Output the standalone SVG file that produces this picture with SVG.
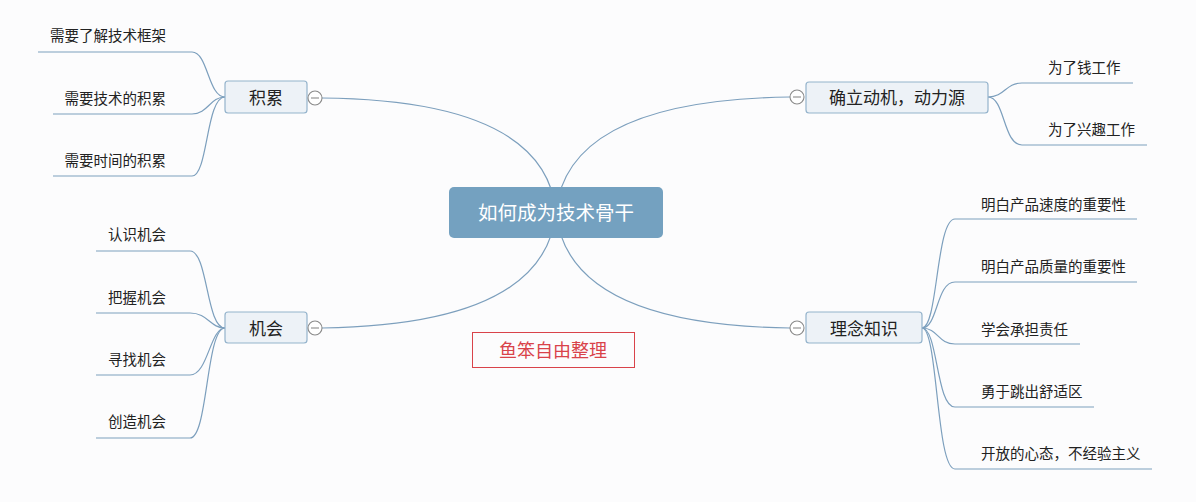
<svg xmlns="http://www.w3.org/2000/svg" width="1196" height="502" viewBox="0 0 1196 502">
<style>
text{font-family:"Microsoft YaHei","Noto Sans CJK SC",sans-serif;fill:#222}
.sub{font-size:14.5px}
.topic{font-size:17px}
.root{font-size:19.5px;fill:#fff}
.node{fill:#edf2f7;stroke:#94b3cc;stroke-width:1.2}
.conn path{fill:none;stroke:#7c9fbd;stroke-width:1.2}
.col circle{fill:#fff;stroke:#8a8a8a;stroke-width:1.1}
.col line{stroke:#8a8a8a;stroke-width:1.1}
</style>
<rect width="1196" height="502" fill="#fcfcfd"/>
<g id="connectors" class="conn">
<path d="M322,98 Q545,100 556,212"/>
<path d="M790,97 Q567,100 556,212"/>
<path d="M322,328 Q545,325 556,212"/>
<path d="M790,328 Q567,325 556,212"/>
<path d="M38,52 L192,52 C208,52 208,97 225,97"/>
<path d="M53,114 L192,114 C208,114 210,97 225,97"/>
<path d="M53,176 L192,176 C208,176 206,97 225,97"/>
<path d="M96,251 L190,251 C208,251 206,328 225,328"/>
<path d="M96,313 L190,313 C208,313 210,328 225,328"/>
<path d="M96,375 L190,375 C208,375 210,328 225,328"/>
<path d="M96,438 L190,438 C208,438 206,328 225,328"/>
<path d="M988,97 C1005,97 1005,83 1022,83 L1133,83"/>
<path d="M988,97 C1005,97 1003,145 1022,145 L1147,145"/>
<path d="M922,328 C938,328 936,219 955,219 L1137,219"/>
<path d="M922,328 C938,328 936,282 955,282 L1137,282"/>
<path d="M922,328 C938,328 938,344 955,344 L1080,344"/>
<path d="M922,328 C938,328 936,407 955,407 L1094,407"/>
<path d="M922,328 C938,328 936,469 955,469 L1152,469"/>
</g>
<g id="root">
<rect x="449" y="187" width="214" height="51" rx="5" fill="#74a1c0"/>
<text class="root" x="556" y="220" text-anchor="middle">如何成为技术骨干</text>
</g>
<g id="n-jilei">
<rect class="node" x="225" y="81" width="82" height="32" rx="3"/>
<text class="topic" x="266" y="104" text-anchor="middle">积累</text>
<g class="col"><circle cx="315" cy="98" r="7"/><line x1="311" y1="98" x2="319" y2="98"/></g>
</g>
<g id="n-jilei-1"><text class="sub" x="166" y="41" text-anchor="end">需要了解技术框架</text></g>
<g id="n-jilei-2"><text class="sub" x="166" y="103.5" text-anchor="end">需要技术的积累</text></g>
<g id="n-jilei-3"><text class="sub" x="166" y="166" text-anchor="end">需要时间的积累</text></g>
<g id="n-jihui">
<rect class="node" x="225" y="312" width="82" height="31" rx="3"/>
<text class="topic" x="266" y="334.5" text-anchor="middle">机会</text>
<g class="col"><circle cx="315" cy="328" r="7"/><line x1="311" y1="328" x2="319" y2="328"/></g>
</g>
<g id="n-jihui-1"><text class="sub" x="166" y="240" text-anchor="end">认识机会</text></g>
<g id="n-jihui-2"><text class="sub" x="166" y="303" text-anchor="end">把握机会</text></g>
<g id="n-jihui-3"><text class="sub" x="166" y="365" text-anchor="end">寻找机会</text></g>
<g id="n-jihui-4"><text class="sub" x="166" y="427" text-anchor="end">创造机会</text></g>
<g id="n-dongji">
<rect class="node" x="806" y="82" width="182" height="31" rx="3"/>
<text class="topic" x="897" y="104" text-anchor="middle">确立动机，动力源</text>
<g class="col"><circle cx="797" cy="97" r="7"/><line x1="793" y1="97" x2="801" y2="97"/></g>
</g>
<g id="n-dongji-1"><text class="sub" x="1048" y="73">为了钱工作</text></g>
<g id="n-dongji-2"><text class="sub" x="1048" y="135">为了兴趣工作</text></g>
<g id="n-linian">
<rect class="node" x="806" y="312" width="116" height="31" rx="3"/>
<text class="topic" x="864" y="334.5" text-anchor="middle">理念知识</text>
<g class="col"><circle cx="797" cy="328" r="7"/><line x1="793" y1="328" x2="801" y2="328"/></g>
</g>
<g id="n-linian-1"><text class="sub" x="981" y="209.5">明白产品速度的重要性</text></g>
<g id="n-linian-2"><text class="sub" x="981" y="272">明白产品质量的重要性</text></g>
<g id="n-linian-3"><text class="sub" x="981" y="334.5">学会承担责任</text></g>
<g id="n-linian-4"><text class="sub" x="981" y="396.5">勇于跳出舒适区</text></g>
<g id="n-linian-5"><text class="sub" x="981" y="459">开放的心态，不经验主义</text></g>
<g id="note">
<rect x="472.5" y="332.5" width="162" height="35" fill="none" stroke="#d9434a" stroke-width="1"/>
<text x="553" y="357" text-anchor="middle" style="font-size:18px;fill:#d9434a">鱼笨自由整理</text>
</g>
</svg>
